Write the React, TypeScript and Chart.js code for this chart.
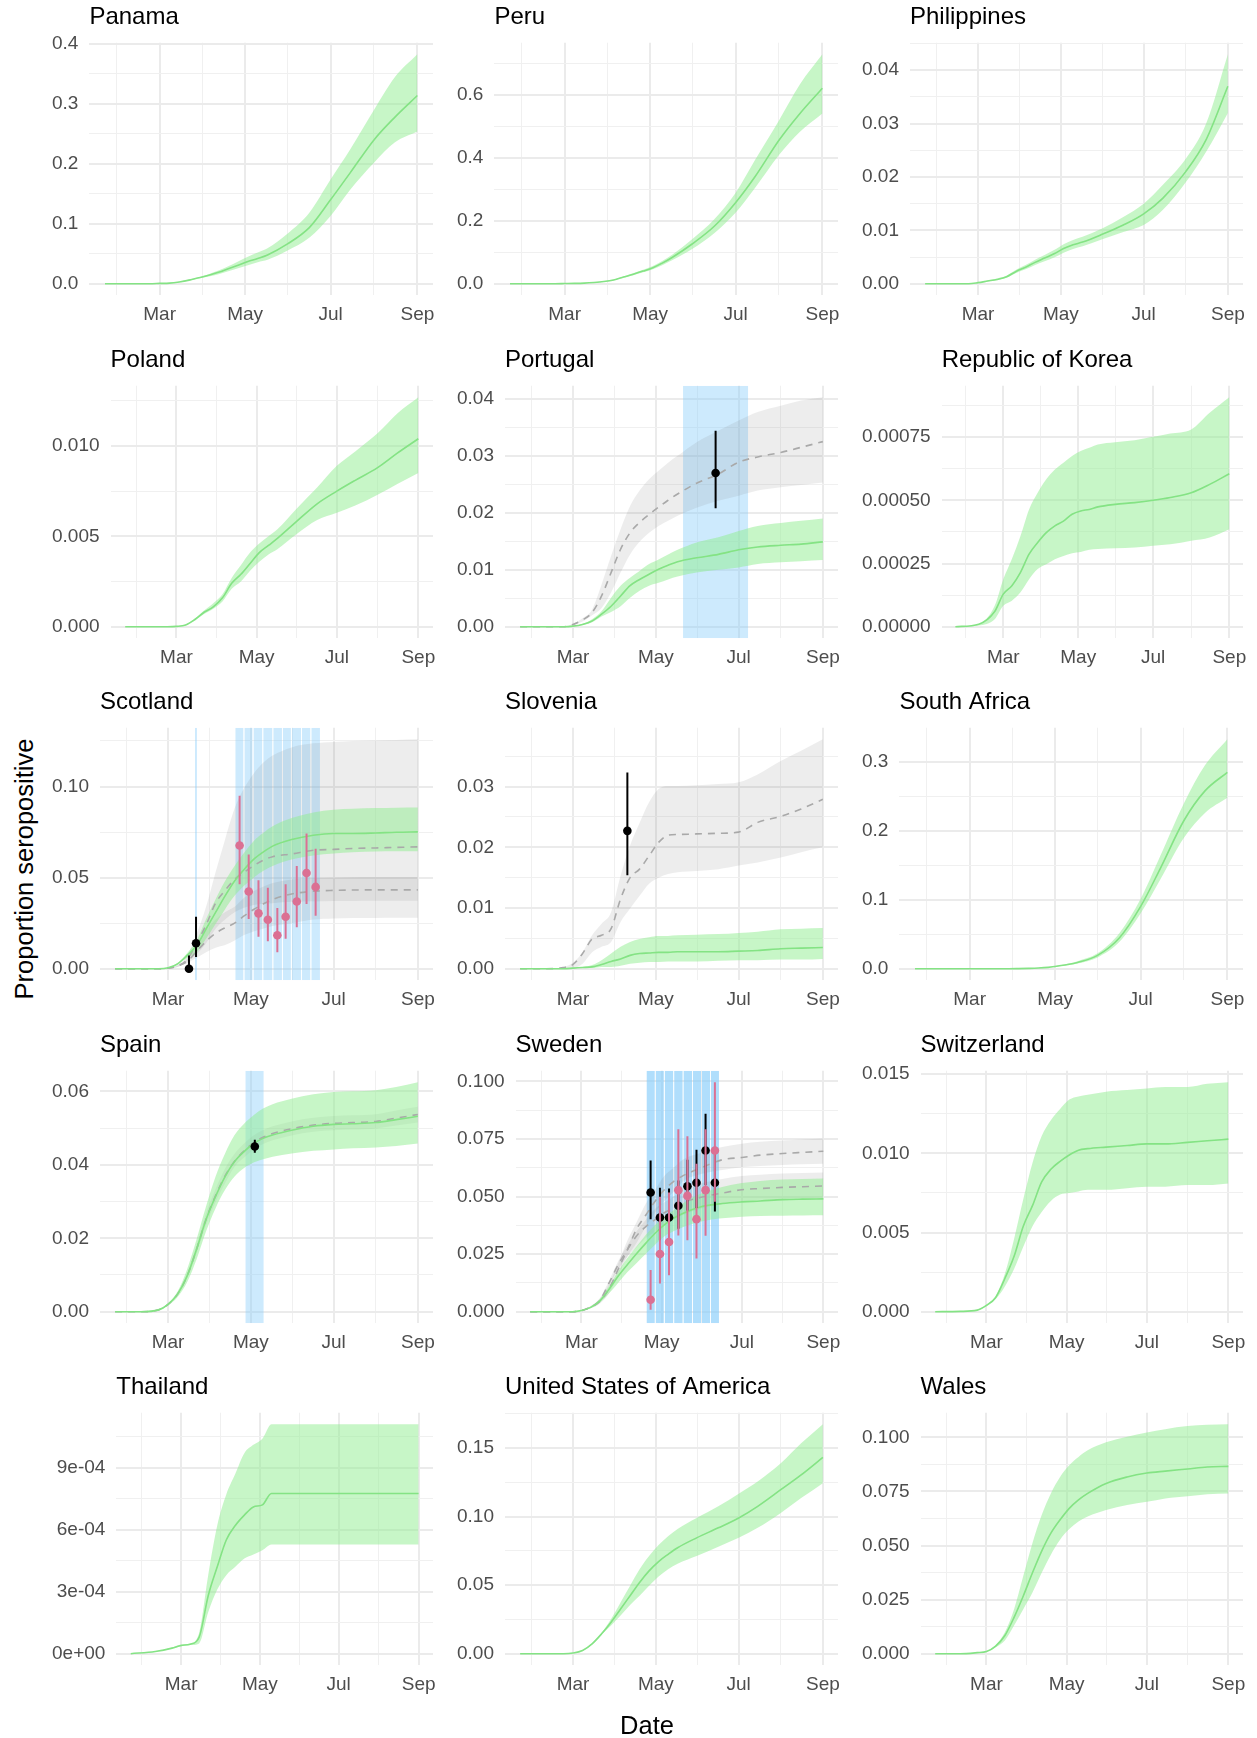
import React, { useEffect, useRef } from 'react';
import { Chart, registerables } from 'chart.js';
Chart.register(...registerables);

// ---------- shared x data (day of year 2020, Jan 1 = 0) ----------
const DAYS = [21, 40, 53, 60, 67, 74, 81, 88, 95, 102, 109, 116, 123, 130, 137, 151, 167, 182, 196, 213, 228, 244];
const X_TICKS = [60, 121, 182, 244];
const X_LABELS = ['Mar', 'May', 'Jul', 'Sep'];

// ---------- Panama ----------
const PANAMA_MED = [0, 0, 0, 0.0005, 0.001, 0.003, 0.006, 0.010, 0.014, 0.019, 0.025, 0.031, 0.037, 0.042, 0.048, 0.066, 0.094, 0.140, 0.185, 0.240, 0.278, 0.314];
const PANAMA_HI = [0, 0, 0, 0.0006, 0.0013, 0.0035, 0.007, 0.011, 0.016, 0.022, 0.029, 0.037, 0.045, 0.052, 0.059, 0.083, 0.119, 0.174, 0.224, 0.290, 0.345, 0.383];
const PANAMA_LO = [0, 0, 0, 0.0004, 0.0008, 0.0025, 0.005, 0.009, 0.012, 0.016, 0.021, 0.026, 0.031, 0.036, 0.040, 0.055, 0.077, 0.113, 0.157, 0.202, 0.236, 0.254];
const PANAMA_Y = [0, 0.1, 0.2, 0.3, 0.4];
const PANAMA_YL = ['0.0', '0.1', '0.2', '0.3', '0.4'];

// ---------- Peru ----------
const PERU_MED = [0, 0, 0, 0.0005, 0.001, 0.002, 0.004, 0.007, 0.012, 0.021, 0.030, 0.040, 0.051, 0.066, 0.084, 0.126, 0.183, 0.257, 0.34, 0.455, 0.54, 0.62];
const PERU_HI = [0, 0, 0, 0.0006, 0.0012, 0.0024, 0.0045, 0.008, 0.013, 0.023, 0.033, 0.044, 0.056, 0.073, 0.093, 0.141, 0.205, 0.288, 0.393, 0.518, 0.633, 0.728];
const PERU_LO = [0, 0, 0, 0.0004, 0.0008, 0.0016, 0.0035, 0.006, 0.011, 0.019, 0.027, 0.036, 0.046, 0.059, 0.075, 0.11, 0.161, 0.225, 0.304, 0.408, 0.482, 0.54];
const PERU_Y = [0, 0.2, 0.4, 0.6];
const PERU_YL = ['0.0', '0.2', '0.4', '0.6'];

// ---------- Philippines ----------
const PHL_MED = [0, 0, 0, 0.0002, 0.0005, 0.0008, 0.0013, 0.0023, 0.0031, 0.004, 0.0048, 0.0056, 0.0066, 0.0073, 0.0078, 0.0092, 0.011, 0.0131, 0.016, 0.021, 0.027, 0.037];
const PHL_HI = [0, 0, 0, 0.0002, 0.0006, 0.001, 0.0015, 0.0026, 0.0035, 0.0045, 0.0054, 0.0063, 0.0074, 0.0082, 0.0088, 0.0103, 0.0125, 0.015, 0.0185, 0.0234, 0.030, 0.043];
const PHL_LO = [0, 0, 0, 0.0002, 0.0004, 0.0007, 0.0011, 0.002, 0.0027, 0.0035, 0.0042, 0.0049, 0.0058, 0.0065, 0.007, 0.0083, 0.0097, 0.011, 0.0138, 0.019, 0.0247, 0.032];
const PHL_Y = [0, 0.01, 0.02, 0.03, 0.04];
const PHL_YL = ['0.00', '0.01', '0.02', '0.03', '0.04'];

// ---------- Poland ----------
const POL_MED = [0, 0, 0, 0.00002, 0.0001, 0.0004, 0.0008, 0.0011, 0.0016, 0.0024, 0.0029, 0.0035, 0.0041, 0.0045, 0.0049, 0.0058, 0.0068, 0.0075, 0.0081, 0.0088, 0.0096, 0.0104];
const POL_HI = [0, 0, 0, 0.00003, 0.00012, 0.00045, 0.0009, 0.0013, 0.0018, 0.0027, 0.0034, 0.0041, 0.0046, 0.0050, 0.0054, 0.0065, 0.0077, 0.0089, 0.0097, 0.0107, 0.0118, 0.0127];
const POL_LO = [0, 0, 0, 0.00001, 0.00008, 0.00035, 0.0007, 0.001, 0.0014, 0.0021, 0.0025, 0.0031, 0.0036, 0.004, 0.0043, 0.0051, 0.0059, 0.0063, 0.0067, 0.0073, 0.0079, 0.0085];
const POL_Y = [0, 0.005, 0.01];
const POL_YL = ['0.000', '0.005', '0.010'];

// ---------- Portugal ----------
const PRT_MED = [0, 0, 0, 0.0001, 0.0004, 0.001, 0.0022, 0.0036, 0.0054, 0.0072, 0.0083, 0.0092, 0.0101, 0.0108, 0.0114, 0.0121, 0.0127, 0.0135, 0.014, 0.0143, 0.0145, 0.0149];
const PRT_HI = [0, 0, 0, 0.0001, 0.0005, 0.0013, 0.0027, 0.0051, 0.0072, 0.0086, 0.0098, 0.011, 0.0118, 0.0127, 0.0135, 0.0148, 0.0157, 0.0168, 0.0177, 0.0182, 0.0186, 0.019];
const PRT_LO = [0, 0, 0, 0.0001, 0.0003, 0.0008, 0.0018, 0.0026, 0.0036, 0.0051, 0.0063, 0.0072, 0.0077, 0.0083, 0.0088, 0.0095, 0.01, 0.0104, 0.011, 0.0113, 0.0115, 0.0117];
const PRT_G_MED = [0, 0, 0, 0.0004, 0.0012, 0.0025, 0.0054, 0.0095, 0.0136, 0.0165, 0.0183, 0.0197, 0.021, 0.0222, 0.0233, 0.0252, 0.0268, 0.0289, 0.0298, 0.0306, 0.0315, 0.0325];
const PRT_G_HI = [0, 0, 0, 0.0005, 0.0015, 0.003, 0.0074, 0.0124, 0.0171, 0.0212, 0.0239, 0.0259, 0.0274, 0.0288, 0.03, 0.0324, 0.0344, 0.0362, 0.0377, 0.0388, 0.0397, 0.0403];
const PRT_G_LO = [0, 0, 0, 0.0003, 0.0009, 0.002, 0.0033, 0.006, 0.0095, 0.0127, 0.0149, 0.0165, 0.0177, 0.0186, 0.0195, 0.0209, 0.0221, 0.023, 0.0239, 0.0245, 0.0249, 0.0253];
const PRT_OBS_DAY = [165];
const PRT_OBS_VAL = [0.027];
const PRT_OBS_LO = [0.0208];
const PRT_OBS_HI = [0.0344];
const PRT_BAND_START = [141];
const PRT_BAND_END = [189];
const PRT_Y = [0, 0.01, 0.02, 0.03, 0.04];
const PRT_YL = ['0.00', '0.01', '0.02', '0.03', '0.04'];

// ---------- Republic of Korea ----------
const KOR_MED = [0, 0.00001, 0.00006, 0.000129, 0.000162, 0.000215, 0.000287, 0.000333, 0.000372, 0.000399, 0.000418, 0.000445, 0.000458, 0.000464, 0.000474, 0.000484, 0.000491, 0.0005, 0.000511, 0.00053, 0.000563, 0.000605];
const KOR_HI = [0, 0.00001, 0.000083, 0.000188, 0.000268, 0.000359, 0.000464, 0.00053, 0.000583, 0.000622, 0.000649, 0.000675, 0.000695, 0.000708, 0.000721, 0.00073, 0.000738, 0.000751, 0.000764, 0.00078, 0.000846, 0.000908];
const KOR_LO = [0, 0.000005, 0.00003, 0.000083, 0.000103, 0.000136, 0.000188, 0.000228, 0.000247, 0.000267, 0.00028, 0.000291, 0.000296, 0.000304, 0.000307, 0.00031, 0.000313, 0.00032, 0.000326, 0.00034, 0.000353, 0.000386];
const KOR_Y = [0, 0.00025, 0.0005, 0.00075];
const KOR_YL = ['0.00000', '0.00025', '0.00050', '0.00075'];

// ---------- Scotland ----------
const SCO_MED = [0, 0, 0, 0.0005, 0.0027, 0.0073, 0.0127, 0.0218, 0.0309, 0.04, 0.0482, 0.0545, 0.06, 0.064, 0.0673, 0.0709, 0.0733, 0.0742, 0.0742, 0.0745, 0.0749, 0.0751];
const SCO_HI = [0, 0, 0, 0.0006, 0.0031, 0.0085, 0.0155, 0.0273, 0.0382, 0.0482, 0.0564, 0.0636, 0.07, 0.0745, 0.0782, 0.0827, 0.0858, 0.0873, 0.0878, 0.0882, 0.0884, 0.0885];
const SCO_LO = [0, 0, 0, 0.0004, 0.0022, 0.006, 0.0091, 0.0164, 0.0245, 0.0327, 0.04, 0.0455, 0.05, 0.0536, 0.0564, 0.06, 0.0622, 0.0633, 0.064, 0.0644, 0.0645, 0.0645];
const SCO_GA_MED = [0, 0, 0, 0.0003, 0.0015, 0.005, 0.014, 0.024, 0.036, 0.043, 0.049, 0.053, 0.0565, 0.0595, 0.0615, 0.063, 0.065, 0.0655, 0.066, 0.0663, 0.0666, 0.0669];
const SCO_GA_HI = [0, 0, 0, 0.0005, 0.002, 0.007, 0.019, 0.034, 0.053, 0.071, 0.088, 0.099, 0.107, 0.113, 0.117, 0.1215, 0.1237, 0.1245, 0.125, 0.1253, 0.1256, 0.126];
const SCO_GA_LO = [0, 0, 0, 0.0002, 0.001, 0.004, 0.008, 0.014, 0.022, 0.027, 0.031, 0.0335, 0.035, 0.0357, 0.036, 0.0367, 0.037, 0.0372, 0.0372, 0.0373, 0.0373, 0.0373];
const SCO_GB_MED = [0, 0, 0, 0.0003, 0.0015, 0.004, 0.0095, 0.015, 0.0195, 0.0225, 0.025, 0.029, 0.0325, 0.0355, 0.038, 0.041, 0.0425, 0.043, 0.0432, 0.0433, 0.0433, 0.0433];
const SCO_GB_HI = [0, 0, 0, 0.0004, 0.0018, 0.005, 0.013, 0.021, 0.027, 0.031, 0.034, 0.039, 0.0425, 0.045, 0.047, 0.049, 0.0497, 0.05, 0.0502, 0.0503, 0.0504, 0.0504];
const SCO_GB_LO = [0, 0, 0, 0.0002, 0.001, 0.003, 0.006, 0.009, 0.0115, 0.013, 0.0155, 0.0185, 0.0205, 0.022, 0.0235, 0.025, 0.027, 0.0276, 0.0278, 0.0279, 0.028, 0.028];
const SCO_BLACK_DAY = [75.4, 80.6];
const SCO_BLACK_VAL = [0, 0.014];
const SCO_BLACK_LO = [0, 0.0064];
const SCO_BLACK_HI = [0.0073, 0.0285];
const SCO_BLACK_BAND_START = [79.8];
const SCO_BLACK_BAND_END = [81.3];
const SCO_PINK_DAY = [112.7, 119.4, 126.6, 133.5, 140.5, 146.6, 154.8, 162, 168.7];
const SCO_PINK_VAL = [0.0676, 0.0424, 0.0304, 0.0269, 0.0184, 0.0285, 0.0369, 0.0525, 0.0449];
const SCO_PINK_LO = [0.0464, 0.0273, 0.0176, 0.0151, 0.0091, 0.0164, 0.0227, 0.0355, 0.0291];
const SCO_PINK_HI = [0.0949, 0.0627, 0.0485, 0.0445, 0.0333, 0.0464, 0.0564, 0.0742, 0.0658];
const SCO_PINK_BAND_START = [109.5, 116.2, 122.9, 130.1, 137.5, 144.5, 151.1, 158.6, 165.5];
const SCO_PINK_BAND_END = [115.6, 122.3, 129.5, 136.9, 143.9, 150.5, 158.0, 164.9, 171.9];
const SCO_Y = [0, 0.05, 0.1];
const SCO_YL = ['0.00', '0.05', '0.10'];

// ---------- Slovenia ----------
const SVN_MED = [0, 0, 0, 0.0001, 0.0002, 0.0003, 0.0007, 0.0012, 0.0016, 0.0022, 0.0025, 0.0026, 0.0027, 0.0027, 0.0028, 0.0028, 0.0028, 0.0029, 0.003, 0.0033, 0.0034, 0.0035];
const SVN_HI = [0, 0, 0, 0.0001, 0.0003, 0.0006, 0.0014, 0.0025, 0.0036, 0.0044, 0.0049, 0.0052, 0.0054, 0.0054, 0.0055, 0.0056, 0.0057, 0.0059, 0.0061, 0.0065, 0.0066, 0.0067];
const SVN_LO = [0, 0, 0, 0.00005, 0.0001, 0.0001, 0.0003, 0.0003, 0.0005, 0.0008, 0.001, 0.0011, 0.0011, 0.0012, 0.0012, 0.0012, 0.0013, 0.0014, 0.0014, 0.0015, 0.0015, 0.0016];
const SVN_G_MED = [0, 0, 0.0002, 0.0007, 0.0025, 0.0049, 0.0055, 0.0066, 0.0115, 0.015, 0.0164, 0.0186, 0.0208, 0.022, 0.0221, 0.0222, 0.0223, 0.0225, 0.0241, 0.0251, 0.0263, 0.0279];
const SVN_G_HI = [0, 0, 0.0003, 0.001, 0.0027, 0.0055, 0.0074, 0.0093, 0.0153, 0.0203, 0.024, 0.0274, 0.0296, 0.0301, 0.0301, 0.0302, 0.0304, 0.0307, 0.032, 0.0342, 0.0359, 0.0378];
const SVN_G_LO = [0, 0, 0.0001, 0.0001, 0.0008, 0.0027, 0.0036, 0.0044, 0.0077, 0.0099, 0.012, 0.014, 0.015, 0.0156, 0.0159, 0.0161, 0.0164, 0.017, 0.0175, 0.0183, 0.0192, 0.02];
const SVN_OBS_DAY = [100];
const SVN_OBS_VAL = [0.0227];
const SVN_OBS_LO = [0.0154];
const SVN_OBS_HI = [0.0323];
const SVN_Y = [0, 0.01, 0.02, 0.03];
const SVN_YL = ['0.00', '0.01', '0.02', '0.03'];

// ---------- South Africa ----------
const ZAF_MED = [0, 0, 0, 0, 0, 0, 0, 0, 0.0002, 0.0005, 0.001, 0.002, 0.004, 0.006, 0.009, 0.019, 0.045, 0.09, 0.145, 0.215, 0.258, 0.285];
const ZAF_HI = [0, 0, 0, 0, 0, 0, 0, 0, 0.0003, 0.0006, 0.0012, 0.0024, 0.0048, 0.0072, 0.011, 0.022, 0.052, 0.101, 0.163, 0.24, 0.295, 0.333];
const ZAF_LO = [0, 0, 0, 0, 0, 0, 0, 0, 0.0002, 0.0004, 0.0008, 0.0017, 0.0034, 0.005, 0.0075, 0.016, 0.039, 0.08, 0.129, 0.19, 0.226, 0.248];
const ZAF_Y = [0, 0.1, 0.2, 0.3];
const ZAF_YL = ['0.0', '0.1', '0.2', '0.3'];

// ---------- Spain ----------
const ESP_MED = [0, 0, 0.0005, 0.002, 0.0048, 0.0097, 0.017, 0.0251, 0.0314, 0.0368, 0.0409, 0.0436, 0.0458, 0.0472, 0.0481, 0.0494, 0.0505, 0.051, 0.0512, 0.0515, 0.0523, 0.0532];
const ESP_HI = [0, 0, 0.0006, 0.0023, 0.0055, 0.0115, 0.0197, 0.0287, 0.0368, 0.0431, 0.0481, 0.0512, 0.0535, 0.0553, 0.0565, 0.058, 0.0592, 0.0598, 0.06, 0.0603, 0.0612, 0.0625];
const ESP_LO = [0, 0, 0.0004, 0.0017, 0.004, 0.008, 0.0143, 0.0219, 0.0282, 0.0332, 0.0368, 0.0391, 0.0406, 0.0415, 0.0422, 0.0431, 0.0438, 0.0442, 0.0445, 0.0447, 0.0451, 0.0458];
const ESP_G_MED = [0, 0, 0.0005, 0.002, 0.0048, 0.0097, 0.017, 0.0252, 0.0316, 0.037, 0.041, 0.0438, 0.046, 0.0475, 0.0485, 0.0498, 0.0508, 0.0513, 0.0515, 0.0518, 0.0527, 0.0537];
const ESP_G_HI = [0, 0, 0.0006, 0.0022, 0.0052, 0.0105, 0.0182, 0.0268, 0.0334, 0.039, 0.043, 0.0458, 0.048, 0.0495, 0.0505, 0.0518, 0.0528, 0.0533, 0.0535, 0.0538, 0.0548, 0.0558];
const ESP_G_LO = [0, 0, 0.0004, 0.0018, 0.0044, 0.009, 0.0158, 0.0236, 0.0298, 0.035, 0.0395, 0.042, 0.0442, 0.0457, 0.0467, 0.048, 0.049, 0.0494, 0.0496, 0.0499, 0.0507, 0.0515];
const ESP_OBS_DAY = [123.9];
const ESP_OBS_VAL = [0.045];
const ESP_OBS_LO = [0.0433];
const ESP_OBS_HI = [0.0468];
const ESP_BAND_START = [116.9];
const ESP_BAND_END = [130.5];
const ESP_Y = [0, 0.02, 0.04, 0.06];
const ESP_YL = ['0.00', '0.02', '0.04', '0.06'];

// ---------- Sweden ----------
const SWE_MED = [0, 0, 0, 0.0005, 0.0019, 0.0047, 0.0098, 0.0155, 0.0205, 0.0253, 0.0298, 0.0341, 0.0377, 0.0406, 0.0427, 0.0456, 0.047, 0.0477, 0.0481, 0.0487, 0.0489, 0.049];
const SWE_HI = [0, 0, 0, 0.0006, 0.0022, 0.0055, 0.0112, 0.0176, 0.0234, 0.0284, 0.0334, 0.0377, 0.0413, 0.0441, 0.047, 0.0513, 0.0542, 0.0559, 0.0568, 0.0574, 0.0576, 0.0579];
const SWE_LO = [0, 0, 0, 0.0004, 0.0016, 0.004, 0.008, 0.0126, 0.0172, 0.0212, 0.0252, 0.0291, 0.0327, 0.0349, 0.0367, 0.0392, 0.0406, 0.0413, 0.0416, 0.0417, 0.0418, 0.0419];
const SWE_GA_MED = [0, 0, 0, 0.0005, 0.002, 0.0045, 0.010, 0.0185, 0.027, 0.036, 0.042, 0.048, 0.053, 0.0565, 0.059, 0.0625, 0.066, 0.067, 0.068, 0.0687, 0.0692, 0.0697];
const SWE_GA_HI = [0, 0, 0, 0.0006, 0.0025, 0.0055, 0.012, 0.021, 0.031, 0.039, 0.047, 0.053, 0.059, 0.0625, 0.066, 0.069, 0.0715, 0.073, 0.0738, 0.0744, 0.0748, 0.0752];
const SWE_GA_LO = [0, 0, 0, 0.0004, 0.0015, 0.0035, 0.008, 0.016, 0.024, 0.030, 0.037, 0.043, 0.048, 0.052, 0.0565, 0.0598, 0.0616, 0.0628, 0.0633, 0.0637, 0.064, 0.0643];
const SWE_GB_MED = [0, 0, 0, 0.0005, 0.002, 0.005, 0.0125, 0.0205, 0.027, 0.033, 0.037, 0.040, 0.043, 0.045, 0.0473, 0.0497, 0.0515, 0.053, 0.0535, 0.054, 0.0543, 0.0546];
const SWE_GB_HI = [0, 0, 0, 0.0006, 0.0024, 0.006, 0.0135, 0.022, 0.029, 0.035, 0.040, 0.0447, 0.0475, 0.050, 0.053, 0.0558, 0.0577, 0.059, 0.0595, 0.060, 0.0603, 0.0605];
const SWE_GB_LO = [0, 0, 0, 0.0004, 0.0016, 0.004, 0.0115, 0.0185, 0.024, 0.028, 0.032, 0.035, 0.038, 0.040, 0.042, 0.0448, 0.0467, 0.048, 0.0486, 0.049, 0.0493, 0.0495];
const SWE_OBS_DAY = [112.6, 119.7, 126.6, 133.7, 140.6, 147.5, 154.4, 161.5];
const SWE_BLACK_VAL = [0.0518, 0.0409, 0.0409, 0.046, 0.0545, 0.056, 0.07, 0.056];
const SWE_BLACK_LO = [0.0402, 0.031, 0.030, 0.036, 0.044, 0.045, 0.055, 0.0435];
const SWE_BLACK_HI = [0.0657, 0.0538, 0.0535, 0.057, 0.066, 0.0704, 0.086, 0.069];
const SWE_PINK_VAL = [0.0052, 0.0251, 0.0303, 0.0528, 0.0503, 0.0402, 0.0528, 0.07];
const SWE_PINK_LO = [0.0009, 0.0123, 0.0158, 0.0331, 0.031, 0.0231, 0.033, 0.0478];
const SWE_PINK_HI = [0.0181, 0.0499, 0.0518, 0.0793, 0.0762, 0.0643, 0.0793, 0.0997];
const SWE_BAND_START = [109.5, 116.4, 123.3, 130.5, 137.6, 144.7, 151.6, 158.5];
const SWE_BAND_END = [115.8, 122.7, 129.9, 137.0, 144.1, 151.0, 157.9, 164.6];
const SWE_Y = [0, 0.025, 0.05, 0.075, 0.1];
const SWE_YL = ['0.000', '0.025', '0.050', '0.075', '0.100'];

// ---------- Switzerland ----------
const CHE_MED = [0, 0.00002, 0.0001, 0.0004, 0.0009, 0.0021, 0.0035, 0.0054, 0.0067, 0.0082, 0.009, 0.0095, 0.0099, 0.0102, 0.0103, 0.0104, 0.0105, 0.0106, 0.0106, 0.0107, 0.0108, 0.0109];
const CHE_HI = [0, 0.00002, 0.00011, 0.00045, 0.001, 0.0024, 0.0046, 0.0071, 0.0094, 0.0111, 0.0121, 0.0128, 0.0134, 0.0136, 0.0137, 0.0139, 0.014, 0.0141, 0.0142, 0.0142, 0.0144, 0.0145];
const CHE_LO = [0, 0.00002, 0.00009, 0.00035, 0.0008, 0.0016, 0.0027, 0.0041, 0.0054, 0.0063, 0.007, 0.0074, 0.0075, 0.0076, 0.0077, 0.0077, 0.0078, 0.0079, 0.0079, 0.008, 0.008, 0.0081];
const CHE_Y = [0, 0.005, 0.01, 0.015];
const CHE_YL = ['0.000', '0.005', '0.010', '0.015'];

// ---------- Thailand ----------
const THA_MED = [0, 0.000011, 0.000027, 0.00004, 0.000046, 0.00008, 0.00028, 0.00042, 0.00055, 0.00062, 0.00067, 0.00071, 0.00072, 0.000775, 0.000775, 0.000775, 0.000775, 0.000775, 0.000775, 0.000775, 0.000775, 0.000775];
const THA_HI = [0, 0.000011, 0.00003, 0.000045, 0.00005, 0.0001, 0.00038, 0.00062, 0.00077, 0.00087, 0.00097, 0.00101, 0.00104, 0.00111, 0.00111, 0.00111, 0.00111, 0.00111, 0.00111, 0.00111, 0.00111, 0.00111];
const THA_LO = [0, 0.000011, 0.000025, 0.000036, 0.000042, 0.00005, 0.0002, 0.00031, 0.00038, 0.00042, 0.00046, 0.00048, 0.0005, 0.000528, 0.000528, 0.000528, 0.000528, 0.000528, 0.000528, 0.000528, 0.000528, 0.000528];
const THA_Y = [0, 0.0003, 0.0006, 0.0009];
const THA_YL = ['0e+00', '3e-04', '6e-04', '9e-04'];

// ---------- United States of America ----------
const USA_MED = [0, 0, 0, 0.0005, 0.0024, 0.0072, 0.0145, 0.023, 0.0326, 0.0423, 0.052, 0.0604, 0.0672, 0.0725, 0.0773, 0.0845, 0.0918, 0.099, 0.1075, 0.1196, 0.1304, 0.1432];
const USA_HI = [0, 0, 0, 0.0005, 0.0025, 0.0075, 0.0152, 0.0254, 0.0374, 0.0495, 0.0616, 0.0713, 0.0792, 0.0857, 0.091, 0.099, 0.1075, 0.1167, 0.1256, 0.1389, 0.1534, 0.1674];
const USA_LO = [0, 0, 0, 0.0005, 0.0023, 0.0068, 0.0138, 0.0205, 0.0278, 0.0355, 0.0423, 0.0495, 0.0563, 0.0616, 0.0657, 0.0713, 0.078, 0.0845, 0.0918, 0.1027, 0.1135, 0.1244];
const USA_Y = [0, 0.05, 0.1, 0.15];
const USA_YL = ['0.00', '0.05', '0.10', '0.15'];

// ---------- Wales ----------
const WAL_MED = [0, 0, 0.0005, 0.001, 0.0035, 0.0084, 0.0168, 0.0267, 0.0374, 0.0474, 0.0557, 0.0619, 0.0672, 0.0711, 0.0741, 0.0787, 0.0817, 0.0835, 0.0844, 0.0854, 0.0863, 0.0866];
const WAL_HI = [0, 0, 0.0005, 0.0011, 0.004, 0.0099, 0.0206, 0.0359, 0.0512, 0.0641, 0.0741, 0.0817, 0.0871, 0.0909, 0.094, 0.0977, 0.1003, 0.1023, 0.1038, 0.1052, 0.1058, 0.1061];
const WAL_LO = [0, 0, 0.0005, 0.0009, 0.003, 0.0061, 0.013, 0.0206, 0.0283, 0.0374, 0.0458, 0.0527, 0.0576, 0.0611, 0.0634, 0.0664, 0.0687, 0.0702, 0.0718, 0.0728, 0.0737, 0.0741];
const WAL_Y = [0, 0.025, 0.05, 0.075, 0.1];
const WAL_YL = ['0.000', '0.025', '0.050', '0.075', '0.100'];

// ---------- styling ----------
const FONT = "'Liberation Sans', Arial, Helvetica, sans-serif";
const GREEN_FILL = 'rgba(144,238,144,0.5)';
const GREEN_LINE = '#84E384';
const GREY_FILL = 'rgba(128,128,128,0.14)';
const GREY_LINE = '#A9A9A9';
const BLUE_FILL = 'rgba(135,206,250,0.42)';
const BLACK = '#000000';
const PINK = '#DB7093';
const NONE = 'rgba(0,0,0,0)';
const GRID_MAJOR = '#EBEBEB';
const GRID_MINOR = '#F0F0F0';
const TICK_COLOR = '#4D4D4D';

const COL_LEFT = [41, 446, 851];
const CANVAS_W = 408;
const CANVAS_H = 335;
const ROW_PITCH = 342.6;
const Y_PAD = 11;
const X_PAD = 8;

type Ribbon = { med: number[]; lo: number[]; hi: number[] };
type Obs = { days: number[]; val: number[]; lo: number[]; hi: number[]; color: string };
type Band = { start: number[]; end: number[] };
type Panel = {
  title: string;
  yTicks: number[];
  yLabels: string[];
  green: Ribbon;
  grey: Ribbon[];
  obs: Obs[];
  bands: Band[];
};

const PANELS: Panel[] = [
  { title: 'Panama', yTicks: PANAMA_Y, yLabels: PANAMA_YL, green: { med: PANAMA_MED, lo: PANAMA_LO, hi: PANAMA_HI }, grey: [], obs: [], bands: [] },
  { title: 'Peru', yTicks: PERU_Y, yLabels: PERU_YL, green: { med: PERU_MED, lo: PERU_LO, hi: PERU_HI }, grey: [], obs: [], bands: [] },
  { title: 'Philippines', yTicks: PHL_Y, yLabels: PHL_YL, green: { med: PHL_MED, lo: PHL_LO, hi: PHL_HI }, grey: [], obs: [], bands: [] },
  { title: 'Poland', yTicks: POL_Y, yLabels: POL_YL, green: { med: POL_MED, lo: POL_LO, hi: POL_HI }, grey: [], obs: [], bands: [] },
  {
    title: 'Portugal', yTicks: PRT_Y, yLabels: PRT_YL,
    green: { med: PRT_MED, lo: PRT_LO, hi: PRT_HI },
    grey: [{ med: PRT_G_MED, lo: PRT_G_LO, hi: PRT_G_HI }],
    obs: [{ days: PRT_OBS_DAY, val: PRT_OBS_VAL, lo: PRT_OBS_LO, hi: PRT_OBS_HI, color: BLACK }],
    bands: [{ start: PRT_BAND_START, end: PRT_BAND_END }],
  },
  { title: 'Republic of Korea', yTicks: KOR_Y, yLabels: KOR_YL, green: { med: KOR_MED, lo: KOR_LO, hi: KOR_HI }, grey: [], obs: [], bands: [] },
  {
    title: 'Scotland', yTicks: SCO_Y, yLabels: SCO_YL,
    green: { med: SCO_MED, lo: SCO_LO, hi: SCO_HI },
    grey: [{ med: SCO_GA_MED, lo: SCO_GA_LO, hi: SCO_GA_HI }, { med: SCO_GB_MED, lo: SCO_GB_LO, hi: SCO_GB_HI }],
    obs: [
      { days: SCO_BLACK_DAY, val: SCO_BLACK_VAL, lo: SCO_BLACK_LO, hi: SCO_BLACK_HI, color: BLACK },
      { days: SCO_PINK_DAY, val: SCO_PINK_VAL, lo: SCO_PINK_LO, hi: SCO_PINK_HI, color: PINK },
    ],
    bands: [{ start: SCO_BLACK_BAND_START, end: SCO_BLACK_BAND_END }, { start: SCO_PINK_BAND_START, end: SCO_PINK_BAND_END }],
  },
  {
    title: 'Slovenia', yTicks: SVN_Y, yLabels: SVN_YL,
    green: { med: SVN_MED, lo: SVN_LO, hi: SVN_HI },
    grey: [{ med: SVN_G_MED, lo: SVN_G_LO, hi: SVN_G_HI }],
    obs: [{ days: SVN_OBS_DAY, val: SVN_OBS_VAL, lo: SVN_OBS_LO, hi: SVN_OBS_HI, color: BLACK }],
    bands: [],
  },
  { title: 'South Africa', yTicks: ZAF_Y, yLabels: ZAF_YL, green: { med: ZAF_MED, lo: ZAF_LO, hi: ZAF_HI }, grey: [], obs: [], bands: [] },
  {
    title: 'Spain', yTicks: ESP_Y, yLabels: ESP_YL,
    green: { med: ESP_MED, lo: ESP_LO, hi: ESP_HI },
    grey: [{ med: ESP_G_MED, lo: ESP_G_LO, hi: ESP_G_HI }],
    obs: [{ days: ESP_OBS_DAY, val: ESP_OBS_VAL, lo: ESP_OBS_LO, hi: ESP_OBS_HI, color: BLACK }],
    bands: [{ start: ESP_BAND_START, end: ESP_BAND_END }],
  },
  {
    title: 'Sweden', yTicks: SWE_Y, yLabels: SWE_YL,
    green: { med: SWE_MED, lo: SWE_LO, hi: SWE_HI },
    grey: [{ med: SWE_GA_MED, lo: SWE_GA_LO, hi: SWE_GA_HI }, { med: SWE_GB_MED, lo: SWE_GB_LO, hi: SWE_GB_HI }],
    obs: [
      { days: SWE_OBS_DAY, val: SWE_BLACK_VAL, lo: SWE_BLACK_LO, hi: SWE_BLACK_HI, color: BLACK },
      { days: SWE_OBS_DAY, val: SWE_PINK_VAL, lo: SWE_PINK_LO, hi: SWE_PINK_HI, color: PINK },
    ],
    bands: [{ start: SWE_BAND_START, end: SWE_BAND_END }, { start: SWE_BAND_START, end: SWE_BAND_END }],
  },
  { title: 'Switzerland', yTicks: CHE_Y, yLabels: CHE_YL, green: { med: CHE_MED, lo: CHE_LO, hi: CHE_HI }, grey: [], obs: [], bands: [] },
  { title: 'Thailand', yTicks: THA_Y, yLabels: THA_YL, green: { med: THA_MED, lo: THA_LO, hi: THA_HI }, grey: [], obs: [], bands: [] },
  { title: 'United States of America', yTicks: USA_Y, yLabels: USA_YL, green: { med: USA_MED, lo: USA_LO, hi: USA_HI }, grey: [], obs: [], bands: [] },
  { title: 'Wales', yTicks: WAL_Y, yLabels: WAL_YL, green: { med: WAL_MED, lo: WAL_LO, hi: WAL_HI }, grey: [], obs: [], bands: [] },
];

function pts(xs: number[], ys: number[]) {
  return xs.map((x, i) => ({ x, y: ys[i] }));
}

// ggplot-like: 5% expansion of the data range
function expandRange(lo: number, hi: number): [number, number] {
  const pad = (hi - lo) * 0.05;
  return [lo - pad, hi + pad];
}

function yDataRange(p: Panel): [number, number] {
  let lo = Infinity;
  let hi = -Infinity;
  const rs = [p.green, ...p.grey];
  rs.forEach((r) => {
    lo = Math.min(lo, ...r.lo);
    hi = Math.max(hi, ...r.hi);
  });
  p.obs.forEach((o) => {
    lo = Math.min(lo, ...o.lo);
    hi = Math.max(hi, ...o.hi);
  });
  return expandRange(lo, hi);
}

// major ticks plus ggplot-style minor ticks (midpoints, extended one step)
function tickList(major: number[], labels: string[], min: number, max: number) {
  const out: any[] = major.map((v, i) => ({ value: v, lab: labels[i], mn: false }));
  const step0 = major[1] - major[0];
  const stepN = major[major.length - 1] - major[major.length - 2];
  const ext = [major[0] - step0, ...major, major[major.length - 1] + stepN];
  for (let i = 0; i < ext.length - 1; i++) {
    const m = (ext[i] + ext[i + 1]) / 2;
    if (m >= min && m <= max) out.push({ value: m, lab: '', mn: true });
  }
  return out
    .filter((t) => t.value >= min - 1e-12 && t.value <= max + 1e-12)
    .sort((a, b) => a.value - b.value);
}

function buildDatasets(p: Panel, yMax: number) {
  const list: any[] = [];
  const base = { pointRadius: 0, pointHoverRadius: 0, borderWidth: 0, borderColor: NONE };
  // background measurement windows
  p.bands.forEach((b) => {
    b.start.forEach((s, i) => {
      list.push({ ...base, data: [{ x: s, y: yMax }, { x: b.end[i], y: yMax }], fill: 'start', backgroundColor: BLUE_FILL, tension: 0 });
    });
  });
  // ribbons
  const ribbon = (r: Ribbon, color: string) => {
    const li = list.length;
    list.push({ ...base, data: pts(DAYS, r.lo), fill: false, cubicInterpolationMode: 'monotone' });
    list.push({ ...base, data: pts(DAYS, r.hi), fill: li, backgroundColor: color, cubicInterpolationMode: 'monotone' });
  };
  p.grey.forEach((r) => ribbon(r, GREY_FILL));
  ribbon(p.green, GREEN_FILL);
  // median lines
  p.grey.forEach((r) => {
    list.push({ ...base, data: pts(DAYS, r.med), fill: false, borderColor: GREY_LINE, borderWidth: 1.6, borderDash: [7, 6], cubicInterpolationMode: 'monotone' });
  });
  list.push({ ...base, data: pts(DAYS, p.green.med), fill: false, borderColor: GREEN_LINE, borderWidth: 1.6, cubicInterpolationMode: 'monotone' });
  // observations: error bars + points
  p.obs.forEach((o) => {
    o.days.forEach((d, i) => {
      list.push({ ...base, data: [{ x: d, y: o.lo[i] }, { x: d, y: o.hi[i] }], fill: false, borderColor: o.color, borderWidth: 2, tension: 0 });
    });
    list.push({
      data: pts(o.days, o.val), showLine: false, fill: false, pointRadius: 4.3, pointHoverRadius: 4.3,
      pointBackgroundColor: o.color, pointBorderColor: o.color, pointBorderWidth: 0, borderColor: NONE,
    });
  });
  list.forEach((d, i) => {
    d.order = list.length - i;
  });
  return list;
}

function makeConfig(p: Panel): any {
  const [yMin, yMax] = yDataRange(p);
  const [xMin, xMax] = expandRange(DAYS[0], DAYS[DAYS.length - 1]);
  const yT = tickList(p.yTicks, p.yLabels, yMin, yMax);
  const xT = tickList(X_TICKS, X_LABELS, xMin, xMax);
  const gridColor = (ctx: any) => (ctx.tick && ctx.tick.mn ? GRID_MINOR : GRID_MAJOR);
  const gridWidth = (ctx: any) => (ctx.tick && ctx.tick.mn ? 1 : 2);
  const labelCb = (_v: any, i: number, ticks: any[]) => (ticks[i] && ticks[i].lab) || '';
  return {
    type: 'line',
    data: { datasets: buildDatasets(p, yMax) },
    options: {
      responsive: false,
      animation: false,
      devicePixelRatio: 1,
      events: [],
      layout: { padding: { left: 0, right: 16, top: 0, bottom: 1 } },
      plugins: {
        legend: { display: false },
        tooltip: { enabled: false },
        title: {
          display: true,
          text: p.title,
          align: 'start',
          fullSize: false,
          color: '#000000',
          font: { family: FONT, size: 24, weight: 'normal' },
          padding: { top: 3.1, bottom: 10.8 },
        },
      },
      scales: {
        x: {
          type: 'linear',
          min: xMin,
          max: xMax,
          afterBuildTicks: (scale: any) => {
            scale.ticks = xT.map((t) => ({ ...t }));
          },
          border: { display: false },
          grid: { color: gridColor, lineWidth: gridWidth, drawTicks: false, tickLength: 0 },
          ticks: { autoSkip: false, maxRotation: 0, minRotation: 0, padding: X_PAD, color: TICK_COLOR, font: { family: FONT, size: 19 }, callback: labelCb },
        },
        y: {
          type: 'linear',
          min: yMin,
          max: yMax,
          afterBuildTicks: (scale: any) => {
            scale.ticks = yT.map((t) => ({ ...t }));
          },
          border: { display: false },
          grid: { color: gridColor, lineWidth: gridWidth, drawTicks: false, tickLength: 0 },
          ticks: { autoSkip: false, padding: Y_PAD, color: TICK_COLOR, font: { family: FONT, size: 19 }, callback: labelCb },
        },
      },
    },
  };
}

function PanelChart({ p, left, top }: { p: Panel; left: number; top: number }) {
  const ref = useRef<HTMLCanvasElement | null>(null);
  useEffect(() => {
    if (!ref.current) return;
    const chart = new Chart(ref.current, makeConfig(p));
    return () => chart.destroy();
  }, [p]);
  return (
    <canvas
      ref={ref}
      width={CANVAS_W}
      height={CANVAS_H}
      style={{ position: 'absolute', left, top, width: CANVAS_W, height: CANVAS_H }}
    />
  );
}

export default function App() {
  return (
    <div style={{ position: 'absolute', left: 0, top: 0, width: 1257, height: 1738, background: '#ffffff', overflow: 'hidden' }}>
      {PANELS.map((p, i) => (
        <PanelChart key={p.title} p={p} left={COL_LEFT[i % 3]} top={Math.round(Math.floor(i / 3) * ROW_PITCH)} />
      ))}
      <div
        style={{
          position: 'absolute', left: 24 - 250, top: 869 - 15, width: 500, height: 30, lineHeight: '30px',
          textAlign: 'center', fontFamily: FONT, fontSize: 25.5, color: '#000', transform: 'rotate(-90deg)', whiteSpace: 'nowrap',
        }}
      >
        Proportion seropositive
      </div>
      <div
        style={{
          position: 'absolute', left: 647 - 100, top: 1725 - 15, width: 200, height: 30, lineHeight: '30px',
          textAlign: 'center', fontFamily: FONT, fontSize: 25.5, color: '#000', whiteSpace: 'nowrap',
        }}
      >
        Date
      </div>
    </div>
  );
}
